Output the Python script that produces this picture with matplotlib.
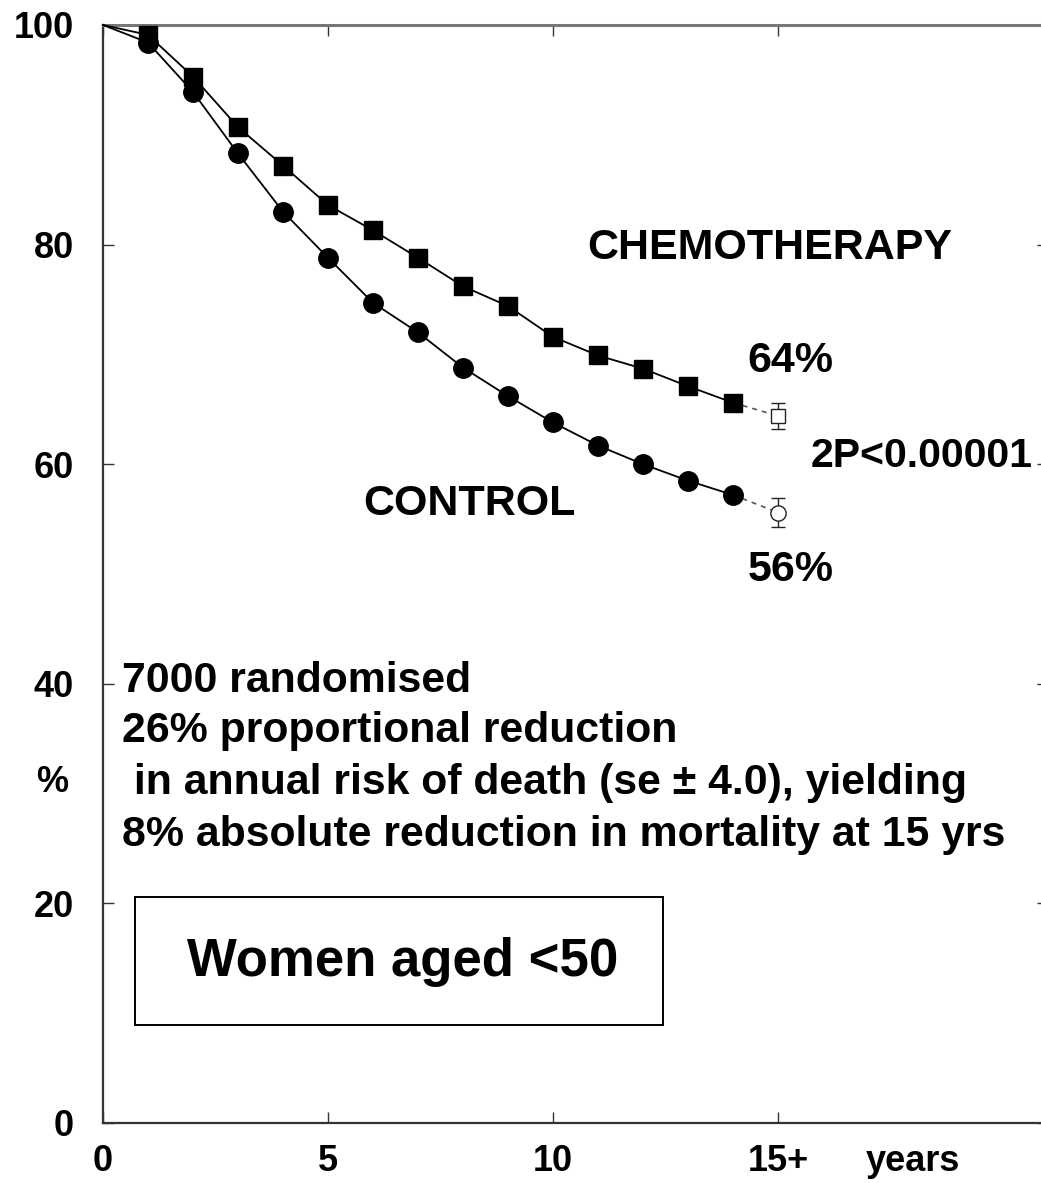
import matplotlib
matplotlib.use("Agg")
import matplotlib.pyplot as plt
from matplotlib.patches import Rectangle

plt.rcParams['font.family'] = ['Liberation Sans', 'DejaVu Sans']

# ---- data ----
years = [0, 1, 2, 3, 4, 5, 6, 7, 8, 9, 10, 11, 12, 13, 14]
chemo = [100, 99.1, 95.3, 90.7, 87.2, 83.6, 81.3, 78.8, 76.2, 74.4, 71.6, 69.9, 68.7, 67.1, 65.6]
control = [100, 98.4, 93.9, 88.3, 83.0, 78.8, 74.7, 72.0, 68.8, 66.2, 63.8, 61.7, 60.0, 58.5, 57.2]
end_year = 15
chemo_end, chemo_end_err = 64.4, 1.2
control_end, control_end_err = 55.6, 1.3
xticks = [0, 5, 10, 15]
xticklabels = ['0', '5', '10', '15+']
yticks = [0, 20, 40, 60, 80, 100]
text_lines = ["7000 randomised",
              "26% proportional reduction",
              " in annual risk of death (se \u00b1 4.0), yielding",
              "8% absolute reduction in mortality at 15 yrs"]

W, H = 1041, 1183
fig = plt.figure(figsize=(W / 100, H / 100), dpi=100)
ax = fig.add_axes([103 / W, 60 / H, 945 / W, 1098 / H])
ax.set_xlim(0, 21)
ax.set_ylim(0, 100)

marks = list(range(1, len(years)))
# main curves
ax.plot(years, chemo, color='black', lw=1.3, marker='s', ms=13.5, mfc='black', mec='black',
        markevery=marks, zorder=3, clip_on=False)
ax.plot(years, control, color='black', lw=1.3, marker='o', ms=14, mfc='black', mec='black',
        markevery=marks, zorder=3, clip_on=False)

# dashed extension to 15+
ax.plot([years[-1], end_year], [chemo[-1], chemo_end], color='#555555', lw=1.2, ls=(0, (3, 3)), zorder=2)
ax.plot([years[-1], end_year], [control[-1], control_end], color='#555555', lw=1.2, ls=(0, (3, 3)), zorder=2)
ax.errorbar([end_year], [chemo_end], yerr=[chemo_end_err], fmt='s', ms=10, mfc='white', mec='#222222',
            mew=1.0, ecolor='#222222', elinewidth=1.0, capsize=5, zorder=4)
ax.errorbar([end_year], [control_end], yerr=[control_end_err], fmt='o', ms=11, mfc='white', mec='#222222',
            mew=1.0, ecolor='#222222', elinewidth=1.0, capsize=5, zorder=4)

# axes styling
for side in ['left', 'right', 'top', 'bottom']:
    ax.spines[side].set_linewidth(1.6)
    ax.spines[side].set_color('#333333')
ax.spines['top'].set_color('#777777')
ax.spines['top'].set_linewidth(2.2)
ax.set_xticks(xticks)
ax.set_xticklabels(xticklabels)
ax.set_yticks(yticks)
ax.set_yticklabels([str(v) for v in yticks])
ax.tick_params(axis='both', direction='in', length=8, width=1.0, color='#333333',
               top=True, right=True, labelsize=26)
ax.tick_params(axis='y', pad=21)
ax.tick_params(axis='x', pad=15)
for lab in ax.get_xticklabels() + ax.get_yticklabels():
    lab.set_fontweight('bold')

def px2data(px, py):
    return (px - 103) / 45.0, 100 - (py - 25) / 10.98

bold = dict(fontsize=31, fontweight='bold', color='black')

x, y = px2data(587, 248); ax.text(x, y, "CHEMOTHERAPY", ha='left', va='center', **bold)
x, y = px2data(747, 361); ax.text(x, y, "64%", ha='left', va='center', **bold)
x, y = px2data(811, 456); ax.text(x, y, "2P<0.00001", ha='left', va='center',
                                  fontsize=29.5, fontweight='bold', color='black')
x, y = px2data(363, 504); ax.text(x, y, "CONTROL", ha='left', va='center', **bold)
x, y = px2data(748, 570); ax.text(x, y, "56%", ha='left', va='center', **bold)

line_y = [681, 731, 783, 835]
for t, py in zip(text_lines, line_y):
    x, y = px2data(122, py)
    ax.text(x, y, t, ha='left', va='center', fontsize=30.8, fontweight='bold', color='black')

# box
x0, y0 = px2data(135, 1025)
x1, y1 = px2data(663, 897)
ax.add_patch(Rectangle((x0, y0), x1 - x0, y1 - y0, fill=False, ec='black', lw=1.4, zorder=5))
x, y = px2data(403, 962)
ax.text(x, y, "Women aged <50", ha='center', va='center', fontsize=38, fontweight='bold', color='black', zorder=6)

# axis labels as free text
fig.text(52 / W, 1 - 783 / H, "%", ha='center', va='center', fontsize=26, fontweight='bold')
fig.text(913 / W, 1 - 1171 / H, "years", ha='center', va='baseline', fontsize=26, fontweight='bold')

fig.savefig("out.png", dpi=100)
